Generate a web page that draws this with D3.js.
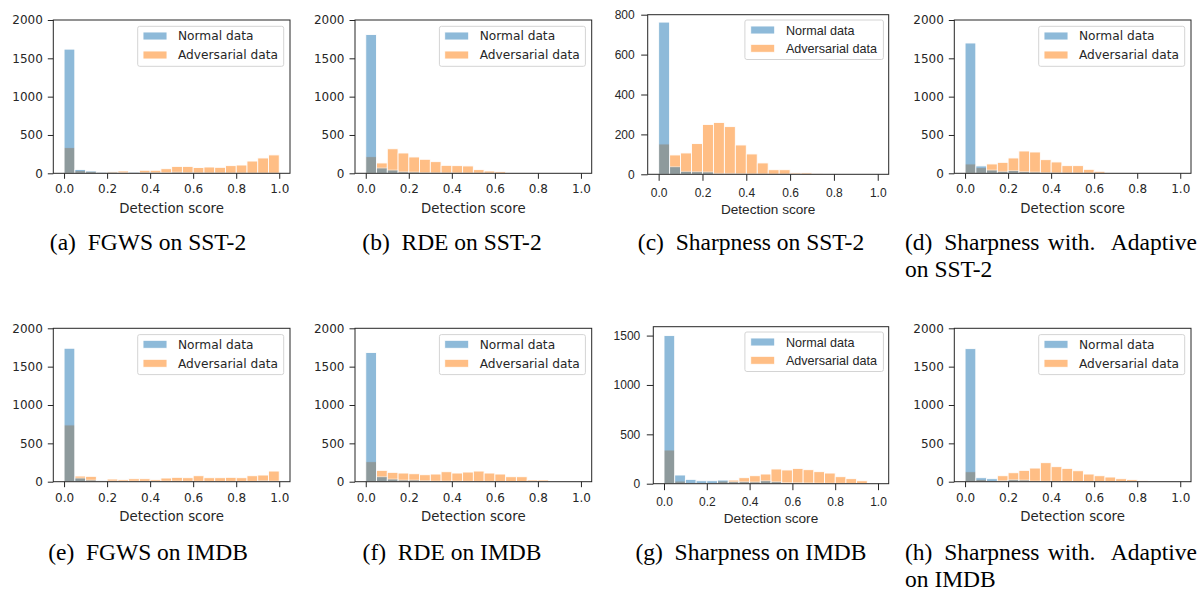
<!DOCTYPE html>
<html>
<head>
<meta charset="utf-8">
<script src="https://cdn.jsdelivr.net/npm/d3@7"></script>
<style>
  body { margin: 0; background: #fff; }
  svg { display: block; }
</style>
</head>
<body>
<svg id="fig" width="1202" height="591"></svg>
<script>
'use strict';
(function() {
  // Bin starts (bin width 0.05)
  var BIN_LO = [0, 0.05, 0.1, 0.15, 0.2, 0.25, 0.3, 0.35, 0.4, 0.45,
                0.5, 0.55, 0.6, 0.65, 0.7, 0.75, 0.8, 0.85, 0.9, 0.95];
  var BIN_W = 0.05;

  // Tick labels
  var X_TICKS = [0, 0.2, 0.4, 0.6, 0.8, 1.0];
  var Y_TICKS_2000 = [0, 500, 1000, 1500, 2000];
  var Y_TICKS_800 = [0, 200, 400, 600, 800];
  var Y_TICKS_1500 = [0, 500, 1000, 1500];

  var SERIES_NAMES = ['Normal data', 'Adversarial data'];

  // Counts per bin
  var fgwsSstNormal = [1620, 50, 30, 15, 15, 10, 15, 8, 8, 10, 15, 8, 5, 5, 5, 3, 3, 2, 2, 2];
  var fgwsSstAdv    = [335, 35, 25, 13, 20, 30, 13, 40, 40, 60, 90, 90, 75, 82, 78, 100, 108, 160, 200, 240];
  var rdeSstNormal  = [1810, 70, 43, 20, 17, 8, 6, 5, 4, 3, 3, 2, 2, 1, 1, 1, 0, 0, 0, 0];
  var rdeSstAdv     = [217, 135, 320, 265, 213, 183, 152, 104, 100, 96, 48, 30, 22, 3, 2, 1, 1, 0, 0, 0];
  var shpSstNormal  = [763, 38, 15, 13, 12, 5, 5, 3, 2, 2, 1, 1, 1, 0, 0, 0, 0, 0, 0, 0];
  var shpSstAdv     = [152, 97, 107, 154, 250, 260, 239, 147, 102, 57, 23, 23, 7, 7, 2, 1, 1, 0, 0, 0];
  var adaSstNormal  = [1700, 96, 43, 26, 35, 22, 17, 8, 5, 4, 3, 2, 2, 1, 1, 0, 0, 0, 0, 0];
  var adaSstAdv     = [122, 74, 122, 143, 200, 291, 278, 178, 148, 100, 100, 52, 26, 2, 1, 1, 0, 0, 0, 0];
  var fgwsImdbNormal = [1740, 48, 22, 13, 10, 8, 8, 6, 6, 8, 8, 6, 6, 5, 5, 5, 5, 5, 12, 8];
  var fgwsImdbAdv    = [740, 74, 70, 13, 35, 26, 39, 39, 26, 48, 57, 52, 78, 52, 52, 57, 52, 78, 87, 139];
  var rdeImdbNormal  = [1685, 65, 35, 22, 22, 13, 8, 8, 8, 6, 5, 5, 4, 3, 2, 2, 1, 1, 0, 0];
  var rdeImdbAdv     = [261, 148, 122, 113, 104, 91, 100, 130, 113, 126, 139, 113, 100, 65, 65, 22, 22, 2, 1, 0];
  var shpImdbNormal  = [1500, 88, 44, 30, 30, 37, 20, 20, 18, 30, 20, 12, 10, 8, 6, 5, 4, 3, 2, 1];
  var shpImdbAdv     = [341, 27, 10, 13, 13, 27, 37, 61, 81, 98, 149, 139, 155, 142, 122, 108, 71, 51, 30, 7];
  var adaImdbNormal  = [1735, 52, 39, 13, 26, 22, 8, 6, 5, 4, 3, 3, 2, 2, 1, 1, 0, 0, 0, 0];
  var adaImdbAdv     = [130, 30, 13, 78, 117, 148, 178, 248, 196, 174, 143, 100, 78, 61, 39, 26, 13, 9, 3, 1];

  // Captions
  var CAPTIONS = [
    ['(a)\u2002FGWS on SST-2'],
    ['(b)\u2002RDE on SST-2'],
    ['(c)\u2002Sharpness on SST-2'],
    ['(d)\u2002Sharpness with.  Adaptive', 'on SST-2'],
    ['(e)\u2002FGWS on IMDB'],
    ['(f)\u2002RDE on IMDB'],
    ['(g)\u2002Sharpness on IMDB'],
    ['(h)\u2002Sharpness with.  Adaptive', 'on IMDB']
  ];

  // Colors
  var BLUE = '#1f77b4';
  var ORANGE = '#ff7f0e';
  var INK = '#262626';

  // Two font looks used in the figure
  var DEJAVU = {family: 'DejaVu Sans', tick: 12, label: 13.3, legend: 12.2, tickLen: 5.5, tickPad: 5,
                legW: 146, legH: 40, legPad: 6.3, patchX: 5.3, textX: 40.3, row1: 9.7, row2: 28.7};
  var ARIAL = {family: 'Liberation Sans, Arial', tick: 12, label: 13.6, legend: 12.6, tickLen: 6.5, tickPad: 6.5,
               legW: 138.5, legH: 39.5, legPad: 5.3, patchX: 5.8, textX: 41, row1: 10, row2: 28.3};

  // Panel boxes
  var panels = [
    {normal: fgwsSstNormal, adv: fgwsSstAdv, ymax: 2000, yticks: Y_TICKS_2000, font: DEJAVU,
     left: 53.3, right: 290, top: 20, bottom: 173.3},
    {normal: rdeSstNormal, adv: rdeSstAdv, ymax: 2000, yticks: Y_TICKS_2000, font: DEJAVU,
     left: 355, right: 591.7, top: 20, bottom: 173.3},
    {normal: shpSstNormal, adv: shpSstAdv, ymax: 800, yticks: Y_TICKS_800, font: ARIAL,
     left: 647.7, right: 888.7, top: 14.7, bottom: 174.3},
    {normal: adaSstNormal, adv: adaSstAdv, ymax: 2000, yticks: Y_TICKS_2000, font: DEJAVU,
     left: 954.3, right: 1191, top: 20, bottom: 173.3},
    {normal: fgwsImdbNormal, adv: fgwsImdbAdv, ymax: 2000, yticks: Y_TICKS_2000, font: DEJAVU,
     left: 53.3, right: 290, top: 328.3, bottom: 481.7},
    {normal: rdeImdbNormal, adv: rdeImdbAdv, ymax: 2000, yticks: Y_TICKS_2000, font: DEJAVU,
     left: 355, right: 591.7, top: 328.3, bottom: 481.7},
    {normal: shpImdbNormal, adv: shpImdbAdv, ymax: 1590, yticks: Y_TICKS_1500, font: ARIAL,
     left: 653.3, right: 888.7, top: 326.7, bottom: 483.7},
    {normal: adaImdbNormal, adv: adaImdbAdv, ymax: 2000, yticks: Y_TICKS_2000, font: DEJAVU,
     left: 954.3, right: 1191, top: 328.3, bottom: 481.7}
  ];

  // Captions: centred under their column, or justified when they wrap
  var captionPos = [
    {cx: 148, y: 250}, {cx: 452, y: 250}, {cx: 751, y: 250}, {x: 905, y: 250, w: 292},
    {cx: 148, y: 560}, {cx: 452, y: 560}, {cx: 751, y: 560}, {x: 905, y: 560, w: 292}
  ];
  var captionLine = 26.5;
  var captionSize = 23.5;

  var svg = d3.select('#fig');

  var drawPanel = function(p) {
    var f = p.font;
    var x = d3.scaleLinear().domain([-0.05, 1.05]).range([p.left, p.right]);
    var y = d3.scaleLinear().domain([0, p.ymax]).range([p.bottom, p.top]);
    var g = svg.append('g');

    // Bars: adversarial first, normal on top
    [[p.adv, ORANGE], [p.normal, BLUE]].forEach(function(s) {
      g.append('g')
        .selectAll('rect')
        .data(BIN_LO)
        .enter()
        .append('rect')
        .attr('x', function(d) { return x(d); })
        .attr('width', function(d) { return x(d + BIN_W) - x(d); })
        .attr('y', function(d, i) { return y(s[0][i]); })
        .attr('height', function(d, i) { return y(0) - y(s[0][i]); })
        .attr('fill', s[1])
        .attr('stroke', '#fff')
        .attr('stroke-width', 0.9)
        .attr('opacity', 0.5);
    });

    // Axes
    var yAxis = d3.axisLeft(y)
      .tickValues(p.yticks)
      .tickSize(f.tickLen)
      .tickPadding(f.tickPad)
      .tickFormat(d3.format('d'));
    var xAxis = d3.axisBottom(x)
      .tickValues(X_TICKS)
      .tickSize(f.tickLen)
      .tickPadding(f.tickPad + 1)
      .tickFormat(d3.format('.1f'));

    [[yAxis, 'translate(' + p.left + ',0)'], [xAxis, 'translate(0,' + p.bottom + ')']].forEach(function(a) {
      var ax = g.append('g')
        .attr('transform', a[1])
        .call(a[0]);
      ax.select('.domain').remove();
      ax.selectAll('line').attr('stroke', INK).attr('stroke-width', 1);
      ax.selectAll('text')
        .attr('fill', INK)
        .style('font-family', f.family)
        .style('font-size', f.tick + 'px');
    });

    // Frame
    g.append('rect')
      .attr('x', p.left)
      .attr('y', p.top)
      .attr('width', p.right - p.left)
      .attr('height', p.bottom - p.top)
      .attr('fill', 'none')
      .attr('stroke', INK)
      .attr('stroke-width', 1);

    // X label
    g.append('text')
      .attr('x', (p.left + p.right) / 2)
      .attr('y', p.bottom + 39.5)
      .attr('text-anchor', 'middle')
      .attr('fill', INK)
      .style('font-family', f.family)
      .style('font-size', f.label + 'px')
      .text('Detection score');

    // Legend
    var lx = p.right - f.legPad - f.legW;
    var ly = p.top + f.legPad;
    var leg = g.append('g').attr('transform', 'translate(' + lx + ',' + ly + ')');
    leg.append('rect')
      .attr('width', f.legW)
      .attr('height', f.legH)
      .attr('rx', 2)
      .attr('fill', '#fff')
      .attr('fill-opacity', 0.8)
      .attr('stroke', '#d4d4d4')
      .attr('stroke-width', 1);
    [[SERIES_NAMES[0], BLUE, f.row1], [SERIES_NAMES[1], ORANGE, f.row2]].forEach(function(r) {
      leg.append('rect')
        .attr('x', f.patchX)
        .attr('y', r[2] - 4)
        .attr('width', 24)
        .attr('height', 8)
        .attr('fill', r[1])
        .attr('stroke', '#fff')
        .attr('stroke-width', 0.9)
        .attr('opacity', 0.5);
      leg.append('text')
        .attr('x', f.textX)
        .attr('y', r[2])
        .attr('dy', '0.36em')
        .attr('fill', INK)
        .style('font-family', f.family)
        .style('font-size', f.legend + 'px')
        .text(r[0]);
    });
  };

  panels.forEach(drawPanel);

  // Captions
  CAPTIONS.forEach(function(lines, i) {
    var c = captionPos[i];
    lines.forEach(function(line, j) {
      var t = svg.append('text')
        .attr('x', c.cx !== undefined ? c.cx : c.x)
        .attr('y', c.y + j * captionLine)
        .attr('text-anchor', c.cx !== undefined ? 'middle' : 'start')
        .attr('fill', '#000')
        .style('font-family', 'Liberation Serif, Times New Roman, serif')
        .style('font-size', captionSize + 'px')
        .style('white-space', 'pre')
        .text(line);
      // first line of a wrapped caption is justified to the column width
      if (c.w && j === 0 && lines.length > 1) {
        var len = t.node().getComputedTextLength();
        var gaps = line.split(' ').length - 1;
        if (gaps > 0 && c.w > len) t.style('word-spacing', ((c.w - len) / gaps) + 'px');
      }
    });
  });
})();
</script>
</body>
</html>
